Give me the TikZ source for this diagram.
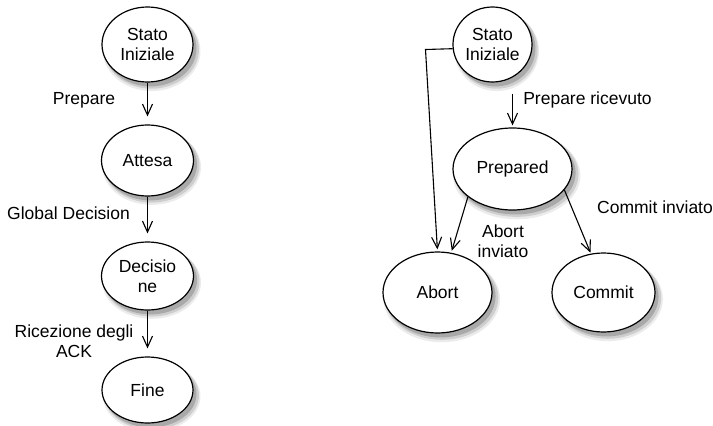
\documentclass[tikz,border=0pt]{standalone}
\usepackage{fontspec}
\setmainfont{Liberation Sans}
\usetikzlibrary{shapes.geometric,arrows.meta,shadows}
\begin{document}
\begin{tikzpicture}[x=1pt,y=-1pt,
  font=\fontsize{17.5}{20}\selectfont,
  softshadow/.style={
    general shadow={fill=black,opacity=0.08,shadow xshift=4pt,shadow yshift=-6pt,shadow scale=1.07},
    general shadow={fill=black,opacity=0.12,shadow xshift=4pt,shadow yshift=-5pt,shadow scale=1.04},
    general shadow={fill=black,opacity=0.18,shadow xshift=3pt,shadow yshift=-4pt,shadow scale=1.01}},
  state/.style={ellipse,draw=black,line width=1.2pt,fill=white,inner sep=0pt,
    align=center,softshadow},
  lbl/.style={align=center,inner sep=0pt},
  arr/.style={line width=1.1pt,-{Straight Barb[length=11pt,width=10pt]}}]
\useasboundingbox (0,0) rectangle (713,426);

% coordinator (left)
\node[state,minimum width=91pt,minimum height=75pt] (s0) at (147.5,44.5) {Stato\\Iniziale};
\node[state,minimum width=92pt,minimum height=71pt] (s1) at (147.5,160.5) {Attesa};
\node[state,minimum width=92pt,minimum height=68pt] (s2) at (147.5,276) {Decisio\\ne};
\node[state,minimum width=91pt,minimum height=66pt] (s3) at (147.5,390) {Fine};

\draw[arr,shorten >=8pt] (s0) -- (s1);
\draw[arr,shorten >=8pt] (s1) -- (s2);
\draw[arr,shorten >=8pt] (s2) -- (s3);

\node[lbl] (l0) at (84,100) {Prepare};
\node[lbl] (l1) at (68.5,213) {Global Decision};
\node[lbl] (l2) at (74,341.5) {Ricezione degli\\ACK};

% participant (right)
\node[state,minimum width=79pt,minimum height=75pt] (p0) at (492.5,44.5) {Stato\\Iniziale};
\node[state,minimum width=119pt,minimum height=82pt] (p1) at (512.5,169) {Prepared};
\node[state,minimum width=109pt,minimum height=81pt] (pa) at (437.5,292.5) {Abort};
\node[state,minimum width=103pt,minimum height=79pt] (pc) at (603.5,292.5) {Commit};

\draw[arr,shorten <=11pt,shorten >=2pt] ([xshift=20pt]p0.south) -- (p1.north);
\coordinate (bend) at (425.5,49.5);
\draw[arr,shorten >=2pt] (p0.186) -- (bend) -- (pa.90);
\draw[arr,shorten >=2pt] (p1.212) -- (pa.71);
\draw[arr,shorten >=1pt] (p1.-22) -- (pc.108);

\node[lbl] (m0) at (587.5,100) {Prepare ricevuto};
\node[lbl] (m1) at (503,241) {Abort\\inviato};
\node[lbl] (m2) at (655,207) {Commit inviato};
\end{tikzpicture}
\end{document}
